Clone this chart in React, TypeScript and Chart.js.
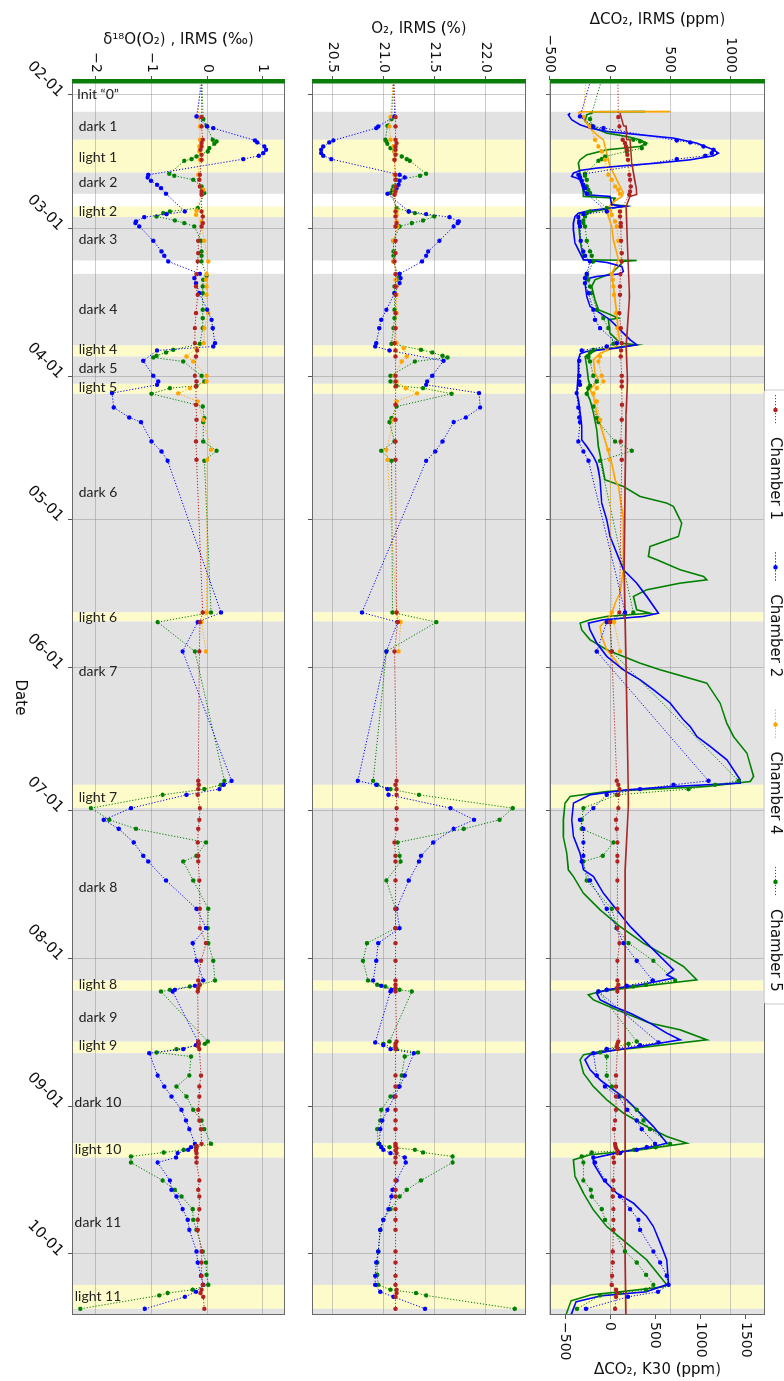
import React, { useEffect, useRef } from 'react';
import { Chart, registerables } from 'chart.js';

Chart.register(...registerables);

const FONT = "'DejaVu Sans', 'Liberation Sans', sans-serif";
const LABEL_FONT = "Lato, 'Open Sans', sans-serif";

// ---------- axes (x in days counted from 02-01) ----------
const X_MIN = -3.1;
const X_MAX = 255.8;
const MONTH_TICKS = [0, 28, 59, 89, 120, 150, 181, 212, 243];
const MONTH_LABELS = ['02-01', '03-01', '04-01', '05-01', '06-01', '07-01', '08-01', '09-01', '10-01'];

const IRMS_TICKS = [-500, 0, 500, 1000];
const K30_TICKS = [-500, 0, 500, 1000, 1500];
const O2_TICKS = [20.5, 21.0, 21.5, 22.0];
const D18O_TICKS = [-2, -1, 0, 1];

const CHAMBERS = ['Chamber 1', 'Chamber 2', 'Chamber 4', 'Chamber 5'];
const COLORS = ['#b22222', '#0000ff', '#ffa500', '#008000'];
const K30_COLORS = ['#a52a2a', '#0000ff', '#ffa500', '#008000'];

// ---------- phases ----------
const PHASE_KIND = ['init', 'dark', 'light', 'dark', 'gap', 'light', 'dark', 'gap', 'dark', 'light', 'dark', 'light', 'dark', 'light', 'dark', 'light', 'dark', 'light', 'dark', 'light', 'dark', 'light', 'dark', 'light', 'dark'];
const PHASE_FROM = [-3.1, 3.56, 9.43, 16.29, 20.75, 23.42, 25.64, 34.74, 37.53, 52.56, 54.86, 60.59, 62.68, 108.5, 110.4, 144.65, 149.5, 185.7, 187.8, 198.5, 200.9, 219.8, 222.8, 249.5, 254.5];
const PHASE_TO = [3.56, 9.43, 16.29, 20.75, 23.42, 25.64, 34.74, 37.53, 52.56, 54.86, 60.59, 62.68, 108.5, 110.4, 144.65, 149.5, 185.7, 187.8, 198.5, 200.9, 219.8, 222.8, 249.5, 254.5, 255.8];
const PHASE_LABEL = ['Init \u201c0\u201d', 'dark 1', 'light 1', 'dark 2', '', 'light 2', 'dark 3', '', 'dark 4', 'light 4', 'dark 5', 'light 5', 'dark 6', 'light 6', 'dark 7', 'light 7', 'dark 8', 'light 8', 'dark 9', 'light 9', 'dark 10', 'light 10', 'dark 11', 'light 11', ''];
const PHASE_LABEL_AT = [0, 6.6, 13.1, 18.4, 0, 24.5, 30.4, 0, 45.1, 53.3, 57.3, 61.3, 83.4, 109.6, 120.9, 147.4, 166.2, 186.5, 193.5, 199.4, 211.3, 221.2, 236.5, 251.9, 0];

// ---------- Chamber 1 (IRMS samples) ----------
const CH1_DAY = [
  -4, 4.68, 6.64, 9.43, 10.13, 10.83, 11.53, 12.58, 13.63, 16.77,
  17.82, 19.22, 20.27, 20.96, 24.46, 25.51, 26.9, 27.6, 30.61, 33.19,
  34.94, 37.6, 40.18, 41.93, 45.77, 48.92, 52.06, 53.6, 54.86, 58.91,
  60.1, 61.15, 64.99, 68.13, 72.68, 76.52, 108.53, 110.55, 116.7, 143.82,
  144.65, 145.56, 146.75, 149.55, 151.99, 153.88, 156.74, 159.54, 160.73, 164.71,
  170.65, 174.7, 177.85, 181.55, 185.67, 186.58, 187.28, 187.98, 198.46, 198.95,
  199.51, 200.07, 205.59, 207.9, 210.0, 212.79, 215.03, 216.84, 219.92, 220.34,
  220.82, 221.31, 221.87, 222.78, 223.83, 227.6, 229.56, 230.96, 233.61, 235.85,
  237.95, 242.49, 244.8, 247.59, 249.48, 250.5, 251.2, 252.0, 254.51,
];
const CH1_D18O = [
  -0.1, -0.1, -0.1, -0.08, -0.1, -0.1, -0.12, -0.1, -0.1, -0.13,
  -0.14, -0.13, -0.1, -0.1, -0.1, -0.08, -0.08, -0.1, -0.16, -0.16,
  -0.17, -0.19, -0.2, -0.17, -0.2, -0.22, -0.22, -0.18, -0.2, -0.22,
  -0.19, -0.2, -0.2, -0.19, -0.2, -0.19, -0.08, -0.13, -0.14, -0.16,
  -0.15, -0.16, -0.17, -0.13, -0.14, -0.16, -0.17, -0.16, -0.16, -0.14,
  -0.13, -0.13, -0.02, -0.11, -0.16, -0.14, -0.16, -0.17, -0.16, -0.15,
  -0.16, -0.14, -0.11, -0.14, -0.14, -0.16, -0.14, -0.11, -0.1, -0.19,
  -0.19, -0.2, -0.19, -0.19, -0.19, -0.14, -0.16, -0.14, -0.14, -0.17,
  -0.17, -0.1, -0.1, -0.1, -0.08, -0.1, -0.12, -0.07, -0.05,
];
const CH1_O2 = [
  21.1, 21.12, 21.12, 21.12, 21.13, 21.12, 21.12, 21.12, 21.11, 21.12,
  21.12, 21.12, 21.12, 21.11, 21.12, 21.12, 21.13, 21.12, 21.12, 21.12,
  21.11, 21.12, 21.12, 21.12, 21.12, 21.12, 21.11, 21.12, 21.12, 21.12,
  21.12, 21.12, 21.12, 21.12, 21.12, 21.12, 21.13, 21.14, 21.11, 21.13,
  21.12, 21.13, 21.13, 21.13, 21.13, 21.13, 21.11, 21.12, 21.12, 21.12,
  21.12, 21.12, 21.12, 21.12, 21.12, 21.12, 21.12, 21.12, 21.13, 21.12,
  21.12, 21.12, 21.12, 21.12, 21.12, 21.12, 21.12, 21.12, 21.12, 21.12,
  21.13, 21.12, 21.13, 21.12, 21.12, 21.12, 21.12, 21.12, 21.12, 21.12,
  21.12, 21.12, 21.12, 21.12, 21.12, 21.13, 21.13, 21.12, 21.12,
];
const CH1_IRMS = [
  65, 69, 78, 106, 125, 133, 139, 144, 150, 161,
  167, 172, 167, 160, 83, 83, 89, 89, 92, 97,
  97, 86, 83, 83, 78, 89, 97, 92, 89, 97,
  97, 97, 100, 97, 89, 97, 78, 0, 14, 56,
  69, 78, 69, 69, 50, 56, 61, 61, 61, 61,
  61, 61, 78, 61, 61, 69, 56, 61, 69, 61,
  56, 61, 50, 50, 50, 50, 42, 33, 42, 44,
  50, 61, 61, 28, 33, 28, 25, 22, 28, 28,
  28, 22, 22, 17, 14, 50, 58, 50, 42,
];

// ---------- Chamber 2 ----------
const CH2_DAY = [
  -4, 4.54, 6.64, 6.99, 9.57, 9.99, 10.83, 11.53, 12.23, 12.79,
  13.49, 16.77, 17.33, 18.03, 18.87, 19.57, 20.75, 24.46, 25.02, 25.65,
  26.56, 26.9, 27.6, 30.61, 32.84, 33.75, 34.94, 37.53, 38.43, 39.48,
  41.58, 45.07, 47.17, 48.92, 52.06, 52.76, 53.6, 55.77, 58.91, 60.1,
  60.8, 62.54, 65.55, 67.65, 68.62, 72.68, 74.77, 76.73, 108.53, 110.55,
  116.7, 143.82, 144.65, 145.56, 146.75, 149.55, 151.99, 153.88, 156.74, 159.54,
  160.73, 164.71, 170.65, 174.7, 177.85, 181.55, 185.67, 186.79, 187.63, 187.98,
  198.67, 199.23, 200.07, 200.91, 205.59, 207.9, 210.0, 212.79, 215.03, 216.84,
  219.92, 220.62, 221.17, 221.87, 222.78, 223.83, 227.6, 229.56, 230.96, 233.61,
  235.85, 237.95, 242.49, 244.8, 247.59, 249.48, 250.94, 251.99, 254.51,
];
const CH2_D18O = [
  -0.08, -0.19, 0.0, 0.11, 0.86, 0.9, 1.03, 1.06, 1.01, 0.93,
  0.65, -1.06, -1.07, -1.01, -0.9, -0.83, -0.74, -0.4, -0.73, -1.13,
  -1.28, -1.29, -1.22, -0.97, -0.82, -0.77, -0.7, -0.13, -0.23, -0.2,
  -0.14, 0.0, 0.08, 0.1, 0.14, 0.11, -0.9, -1.15, -0.97, -0.88,
  -0.9, -1.71, -1.68, -1.4, -1.19, -1.0, -0.82, -0.71, 0.25, -0.17,
  -0.44, 0.44, 0.3, 0.22, -0.37, -1.37, -1.86, -1.59, -1.32, -1.15,
  -1.06, -0.74, -0.19, -0.02, -0.26, -0.19, -0.07, -0.22, -0.58, -0.62,
  -0.16, -0.2, -0.43, -1.04, -0.89, -0.77, -0.64, -0.46, -0.38, -0.32,
  -0.22, -0.29, -0.34, -0.53, -0.56, -0.89, -0.67, -0.64, -0.55, -0.44,
  -0.35, -0.32, -0.19, -0.17, -0.11, -0.07, -0.2, -0.4, -1.12,
];
const CH2_O2 = [
  21.1, 21.11, 20.95, 20.93, 20.51, 20.47, 20.41, 20.39, 20.39, 20.41,
  20.49, 21.16, 21.21, 21.16, 21.15, 21.13, 21.04, 21.25, 21.42, 21.65,
  21.74, 21.73, 21.69, 21.55, 21.44, 21.42, 21.38, 21.16, 21.17, 21.16,
  21.11, 21.03, 20.98, 20.96, 20.93, 20.92, 21.06, 21.59, 21.48, 21.43,
  21.42, 21.94, 21.95, 21.81, 21.69, 21.58, 21.51, 21.42, 20.79, 21.14,
  21.03, 20.75, 20.93, 21.04, 21.05, 21.66, 21.89, 21.69, 21.49, 21.37,
  21.35, 21.25, 21.13, 21.16, 20.95, 20.93, 20.9, 20.98, 21.08, 21.07,
  20.92, 21.0, 21.07, 21.3, 21.21, 21.16, 21.11, 21.04, 20.99, 20.97,
  20.96, 20.98, 21.0, 21.07, 21.21, 21.22, 21.13, 21.09, 21.08, 21.05,
  21.0, 20.97, 20.95, 20.93, 20.92, 20.92, 20.97, 21.1, 21.41,
];
const CH2_IRMS = [
  -150, -250, -140, -55, 555, 667, 778, 861, 847, 792,
  555, -264, -250, -236, -222, -208, -194, -28, -222, -264,
  -256, -256, -250, -244, -222, -208, -167, -194, -208, -208,
  -180, -139, -125, -83, 56, -28, -236, -256, -256, -256,
  -250, -278, -264, -256, -250, -264, -222, -180, 125, -28,
  -111, 819, 528, 250, -28, -139, -250, -222, -222, -222,
  -236, -167, -28, 56, 111, 222, 355, 139, -28, -97,
  403, 250, -28, -139, -111, -42, 69, 144, 222, 264,
  375, 306, 222, 83, -139, -125, -42, 28, 83, 167,
  236, 250, 361, 417, 472, 486, 400, 150, -200,
];

// ---------- Chamber 4 ----------
const CH4_DAY = [
  -4, 4.68, 6.64, 9.43, 10.83, 11.88, 13.63, 16.77, 17.82, 19.22,
  19.92, 20.75, 24.32, 25.16, 26.56, 27.6, 30.61, 34.94, 37.6, 38.78,
  40.18, 41.93, 45.77, 48.92, 52.06, 53.11, 54.86, 55.91, 58.91, 60.1,
  61.5, 62.61, 64.29, 68.13, 74.42, 76.52, 108.53, 110.55, 116.7,
];
const CH4_D18O = [
  -0.12, -0.16, -0.13, -0.13, -0.14, -0.14, -0.13, -0.16, -0.14, -0.13,
  -0.07, -0.1, -0.19, -0.2, -0.1, -0.1, -0.05, 0.02, -0.01, -0.02,
  -0.01, -0.01, 0.02, -0.05, -0.06, -0.19, -0.37, -0.25, -0.01, -0.01,
  -0.31, -0.52, -0.17, -0.07, 0.07, 0.0, -0.01, -0.1, -0.02,
];
const CH4_O2 = [
  21.1, 21.07, 21.06, 21.07, 21.1, 21.11, 21.11, 21.11, 21.12, 21.12,
  21.11, 21.11, 21.13, 21.13, 21.13, 21.14, 21.1, 21.1, 21.13, 21.12,
  21.13, 21.13, 21.13, 21.12, 21.13, 21.2, 21.23, 21.18, 21.11, 21.13,
  21.22, 21.33, 21.13, 21.1, 21.03, 21.04, 21.13, 21.17, 21.15,
];
const CH4_IRMS = [
  -200, -222, -167, -125, -97, -69, -42, -14, 14, 42,
  69, 83, 0, 14, 42, 56, 69, 97, 14, 22,
  28, 33, 50, 61, 56, -28, -83, -97, -69, -56,
  -111, -139, -111, -83, -14, 0, 14, 33, 83,
];

// ---------- Chamber 5 ----------
const CH5_DAY = [
  -4, 5.1, 6.5, 9.43, 9.78, 10.27, 11.18, 11.88, 12.93, 13.49,
  13.84, 16.56, 16.98, 17.82, 19.22, 19.92, 20.61, 23.76, 24.46, 24.81,
  25.51, 26.35, 26.9, 27.6, 30.61, 32.84, 33.75, 34.94, 37.95, 38.78,
  40.18, 41.58, 45.07, 46.82, 48.92, 52.2, 53.46, 54.02, 54.72, 55.07,
  55.91, 58.91, 60.1, 61.01, 61.5, 62.68, 65.34, 67.78, 68.62, 72.68,
  74.63, 76.73, 108.53, 110.55, 116.7, 143.82, 144.65, 145.56, 146.75, 149.55,
  151.99, 153.88, 156.74, 159.54, 160.73, 164.71, 170.65, 174.7, 177.85, 181.55,
  185.67, 186.58, 186.93, 187.63, 187.98, 198.46, 198.95, 200.07, 200.77, 201.61,
  205.59, 207.9, 210.0, 212.79, 215.03, 216.84, 219.92, 220.62, 221.17, 221.73,
  222.57, 223.83, 227.6, 229.56, 230.96, 233.61, 235.85, 237.95, 242.49, 244.8,
  247.38, 249.48, 250.5, 251.2, 251.7, 254.51,
];
const CH5_D18O = [
  -0.1, -0.07, -0.01, 0.1, 0.17, 0.13, 0.04, 0.01, -0.19, -0.28,
  -0.41, -0.68, -0.59, -0.25, -0.1, -0.08, -0.05, -0.17, -0.67, -0.79,
  -0.91, -0.58, -0.41, -0.23, -0.11, -0.1, -0.1, -0.1, -0.01, -0.07,
  -0.08, -0.08, -0.08, -0.08, -0.08, -0.13, -0.61, -0.74, -0.91, -0.97,
  -0.43, -0.1, -0.05, -0.19, -0.67, -1.0, -0.08, -0.05, -0.07, -0.07,
  0.17, -0.05, 0.07, -0.89, -0.22, 0.31, 0.25, -0.05, -0.8, -2.09,
  -1.76, -1.28, -0.02, -0.19, -0.43, -0.25, 0.02, 0.01, 0.02, 0.11,
  0.14, -0.13, -0.31, -0.67, -0.83, 0.01, -0.04, -0.55, -0.91, -0.29,
  -0.32, -0.55, -0.37, -0.25, -0.1, -0.05, 0.07, -0.2, -0.42, -0.78,
  -1.37, -1.37, -0.8, -0.58, -0.46, -0.26, -0.25, -0.19, -0.08, -0.02,
  -0.01, 0.02, -0.26, -0.71, -0.86, -2.28,
];
const CH5_O2 = [
  21.1, 21.08, 21.04, 21.02, 21.03, 21.04, 21.07, 21.11, 21.18, 21.23,
  21.26, 21.42, 21.36, 21.13, 21.1, 21.09, 21.07, 21.13, 21.25, 21.31,
  21.5, 21.39, 21.28, 21.16, 21.1, 21.1, 21.1, 21.1, 21.15, 21.13,
  21.11, 21.11, 21.11, 21.11, 21.1, 21.08, 21.37, 21.48, 21.58, 21.63,
  21.31, 21.07, 21.07, 21.13, 21.39, 21.67, 21.13, 21.08, 21.06, 21.11,
  20.98, 21.08, 21.09, 21.52, 21.03, 20.9, 20.94, 21.07, 21.35, 22.27,
  22.14, 21.79, 21.14, 21.16, 21.17, 21.03, 21.12, 21.12, 20.84, 20.8,
  20.85, 20.94, 21.02, 21.16, 21.28, 21.06, 21.0, 21.13, 21.34, 21.21,
  21.18, 21.15, 21.07, 20.98, 20.97, 20.94, 20.95, 21.06, 21.31, 21.39,
  21.68, 21.68, 21.37, 21.23, 21.16, 21.07, 21.0, 20.97, 20.95, 20.94,
  20.94, 20.95, 21.07, 21.32, 21.42, 22.29,
];
const CH5_IRMS = [
  -60, -167, -153, 194, 250, 292, 264, 139, -42, -69,
  -97, -208, -208, -194, -194, -181, -167, -28, -167, -194,
  -208, -222, -222, -208, -194, -167, -153, -139, -194, -181,
  -167, -153, -111, -56, -14, 28, -139, -167, -181, -181,
  -167, -139, -111, -167, -181, -194, -139, -111, -97, 42,
  181, -83, 194, 0, 14, 1069, 875, 653, 56, -222,
  -236, -236, 28, -61, -222, -194, 14, 56, 153, 361,
  542, 300, 194, -28, -97, 222, 153, -28, -83, -28,
  -28, 14, 83, 222, 278, 333, 500, 380, 200, -153,
  -236, -222, -222, -160, -153, -69, -42, 28, 125, 222,
  300, 361, 300, 83, -83, -275,
];

// ---------- K30 continuous records ----------
const K30_CH1_DAY = [3.84, 6.5, 6.6, 9.3, 9.4, 14.3, 17.5, 19.6, 20.9, 21.3, 23.4, 31.8, 42.3, 52.8, 59.8, 66.7, 80.7, 99.6, 120.6, 148.5, 162.5, 202.3, 244.2, 255.8];
const K30_CH1 = [111, 150, 178, 185, 222, 241, 270, 290, 296, 222, 178, 193, 215, 178, 193, 178, 167, 156, 178, 204, 167, 167, 167, 175];

const K30_CH2_DAY = [
  3.84, 4.19, 5.24, 6.29, 6.99, 7.69, 8.39, 9.08, 10.13, 11.53,
  12.23, 12.79, 13.63, 14.33, 14.88, 15.37, 15.86, 16.42, 17.12, 17.47,
  17.82, 18.87, 19.92, 20.96, 21.31, 23.06, 23.41, 24.25, 24.81, 25.51,
  26.9, 28.3, 31.09, 33.89, 34.59, 35.15, 35.99, 37.04, 37.53, 38.09,
  38.58, 39.48, 42.28, 44.38, 45.77, 47.17, 49.27, 51.36, 52.41, 53.11,
  53.8, 54.3, 55.56, 58.35, 61.15, 62.54, 63.94, 66.74, 69.53, 72.33,
  73.73, 75.82, 77.22, 78.62, 80.71, 85.6, 89.1, 92.59, 96.09, 99.58,
  102.38, 105.17, 108.67, 109.36, 110.06, 110.76, 112.16, 114.95, 117.75, 120.55,
  122.64, 124.74, 127.53, 131.03, 132.43, 134.52, 136.62, 139.41, 143.61, 144.3,
  145.0, 145.7, 146.75, 148.5, 151.99, 155.49, 158.98, 162.47, 163.87, 167.37,
  170.86, 174.35, 177.15, 179.94, 183.44, 184.49, 185.19, 186.58, 187.63, 188.33,
  189.73, 191.12, 192.52, 194.62, 196.72, 198.11, 199.51, 200.56, 201.26, 202.31,
  204.4, 206.5, 208.6, 210.69, 213.49, 216.28, 219.78, 220.48, 221.52, 222.92,
  223.97, 227.46, 230.26, 232.35, 235.15, 237.25, 240.74, 244.24, 249.13, 249.48,
  250.94, 251.78, 253.04, 255.77,
];
const K30_CH2 = [
  -444, -463, -426, -333, -222, -37, 333, 704, 963, 1148,
  1204, 1148, 889, 519, 148, -148, -333, -407, -426, -370,
  -333, -315, -296, -259, 0, 19, 167, -222, -352, -389,
  -407, -407, -389, -315, -296, -37, 130, 148, 111, -148,
  -259, -278, -259, -222, -111, 0, 111, 222, 296, 74,
  -259, -333, -352, -352, -363, -370, -352, -333, -315, -315,
  -259, -185, -148, -130, -111, -93, -37, 0, 74, 148,
  296, 407, 537, 370, -74, -241, -222, -148, -37, 148,
  333, 481, 667, 815, 889, 963, 1111, 1296, 1444, 1444,
  704, 185, -222, -407, -426, -407, -333, -296, -185, -74,
  74, 222, 370, 519, 704, 630, 704, 333, -37, -148,
  -111, 37, 222, 444, 630, 778, 333, -37, -222, -278,
  -222, -111, 37, 185, 333, 481, 630, 481, 148, -185,
  -185, -74, 74, 259, 407, 481, 556, 630, 648, 622,
  400, -100, -378, -433,
];

const K30_CH4_DAY = [
  3.49, 3.56, 3.84, 4.54, 5.94, 7.34, 8.39, 9.43, 10.83, 12.23,
  13.63, 15.02, 16.42, 17.82, 19.22, 20.61, 21.31, 22.71, 24.11, 25.51,
  27.6, 30.4, 33.19, 34.59, 37.39, 40.18, 42.98, 45.77, 49.97, 52.06,
  53.11, 54.16, 55.56, 58.35, 59.75, 61.85, 63.24, 66.74, 70.23, 73.73,
  77.22, 80.71, 82.11, 89.1, 99.58, 104.47, 106.57, 108.67, 110.06, 111.46,
  113.56, 116.35, 118.45, 120.55,
];
const K30_CH4 = [
  667, -333, -352, -315, -259, -204, -148, -74, -56, -37,
  -19, 0, 37, 74, 111, 148, 130, 19, -37, -19,
  19, 37, 74, 93, 19, 37, 56, 74, 93, 111,
  37, -111, -185, -167, -130, -222, -185, -148, -93, -37,
  19, 56, 93, 148, 148, 111, 56, 19, -37, -111,
  -93, -37, 56, 130,
];

const K30_CH5_DAY = [
  3.49, 3.56, 3.84, 4.19, 5.59, 6.64, 8.04, 8.74, 9.43, 10.13,
  10.83, 11.53, 12.58, 13.63, 14.33, 16.42, 17.82, 20.61, 21.31, 21.66,
  23.06, 23.27, 24.46, 24.81, 26.21, 30.4, 34.59, 34.73, 34.94, 35.64,
  37.39, 38.78, 40.18, 42.98, 45.07, 45.77, 46.82, 47.17, 49.97, 52.06,
  52.41, 53.46, 54.86, 56.95, 59.75, 61.15, 62.54, 63.94, 66.74, 70.23,
  73.73, 77.22, 80.71, 82.11, 84.21, 85.6, 86.3, 87.7, 89.8, 92.59,
  94.69, 96.79, 97.48, 99.58, 100.98, 101.68, 102.38, 103.77, 105.17, 107.97,
  108.67, 109.36, 110.06, 110.76, 112.16, 114.26, 116.35, 117.75, 119.15, 120.55,
  121.94, 123.34, 127.53, 131.73, 134.52, 138.01, 142.89, 143.96, 145.0, 146.05,
  147.1, 148.5, 151.99, 155.49, 158.98, 162.47, 163.87, 167.37, 170.86, 174.35,
  177.85, 180.64, 182.74, 185.54, 186.93, 187.98, 188.68, 189.73, 191.82, 194.62,
  196.02, 198.11, 199.51, 200.56, 201.26, 202.31, 205.1, 207.9, 210.69, 213.49,
  216.28, 218.38, 219.78, 221.17, 222.22, 223.27, 226.76, 230.26, 233.75, 237.25,
  240.74, 244.24, 247.73, 249.48, 249.9, 250.73, 251.57, 252.83, 255.77,
];
const K30_CH5 = [
  389, -222, -204, -259, -278, -222, -37, 185, 333, 407,
  333, -37, -259, -333, -352, -333, -315, -296, -296, 56,
  19, 167, -185, -333, -352, -333, -296, 296, 148, 111,
  19, -167, -204, -167, -130, -37, 93, -19, 0, 111,
  296, -148, -278, -259, -241, -222, -259, -222, -185, -148,
  -130, -93, -56, 148, 333, 630, 704, 741, 796, 759,
  444, 426, 519, 778, 1037, 1074, 778, 407, 259, 296,
  444, -37, -222, -333, -315, -222, -37, 148, 333, 556,
  815, 1074, 1222, 1296, 1370, 1519, 1593, 1556, 1074, -37,
  -444, -500, -519, -519, -481, -463, -407, -296, -111, 111,
  370, 630, 815, 963, 333, -111, -241, -185, 74, 444,
  778, 1074, 444, -111, -296, -333, -296, -185, -37, 148,
  407, 630, 852, 333, -222, -407, -389, -296, -185, -37,
  185, 407, 556, 630, 589, 206, -211, -433, -489,
];

// ---------- styling ----------
const GRID = 'rgba(140,140,140,0.45)';
const TICK = '#555555';
const FRAME = '#6a6a6a';
const GRAY = '#e2e2e2';
const YELLOW = '#fdfbc9';
const TXT = '#111111';
const TICK_SIZE = 14;
const TITLE_SIZE = 15;

const pts = (xs: number[], ys: number[]) => xs.map((x, i) => ({ x, y: ys[i] }));

const sampleSet = (i: number, days: number[], vals: number[], axis = 'y') => ({
  label: CHAMBERS[i],
  data: pts(days, vals),
  yAxisID: axis,
  borderColor: COLORS[i],
  backgroundColor: COLORS[i],
  borderWidth: 1,
  borderDash: [1.2, 1.8],
  pointRadius: 2.2,
  pointHoverRadius: 2.2,
  pointBorderWidth: 0,
  pointBackgroundColor: COLORS[i],
  tension: 0,
  fill: false,
});

const k30Set = (i: number, days: number[], vals: number[]) => ({
  label: CHAMBERS[i] + ' K30',
  data: pts(days, vals),
  yAxisID: 'y2',
  borderColor: K30_COLORS[i],
  borderWidth: 1.6,
  pointRadius: 0,
  tension: 0,
  fill: false,
});

const minusFmt = (v: number) => (v < 0 ? '\u2212' + Math.abs(v) : String(v));

function xScale(height: number, labels: boolean) {
  return {
    type: 'linear',
    min: X_MIN,
    max: X_MAX,
    afterBuildTicks: (s: any) => { s.ticks = MONTH_TICKS.map((v) => ({ value: v })); },
    afterFit: (s: any) => { s.height = height; },
    grid: { color: GRID, lineWidth: 1, drawTicks: true, tickLength: 4, tickColor: TICK },
    border: { display: false },
    ticks: {
      display: labels, autoSkip: false, minRotation: 45, maxRotation: 45, padding: 1,
      color: TXT, font: { family: FONT, size: 15 },
      callback: (_v: any, i: number) => MONTH_LABELS[i],
    },
    title: { display: labels, text: 'Date', color: TXT, font: { family: FONT, size: TITLE_SIZE }, padding: { top: 0, bottom: 11 } },
  };
}

function yScale(pos: string, min: number, max: number, ticks: number[], fmt: (v: number) => string, width: number, title: string, titlePad: number, onArea = true) {
  return {
    type: 'linear',
    position: pos,
    min,
    max,
    afterBuildTicks: (s: any) => { s.ticks = ticks.map((v) => ({ value: v })); },
    afterFit: (s: any) => { s.width = width; },
    grid: { color: GRID, lineWidth: 1, drawOnChartArea: onArea, drawTicks: true, tickLength: 4, tickColor: TICK },
    border: { display: false },
    ticks: { padding: 3, color: TXT, font: { family: FONT, size: TICK_SIZE }, callback: (v: any) => fmt(v) },
    title: title
      ? { display: true, text: title, color: TXT, font: { family: FONT, size: TITLE_SIZE }, padding: { top: titlePad, bottom: 0 } }
      : { display: false },
  };
}

const backgroundPlugin = {
  id: 'phaseBands',
  beforeDraw(chart: any) {
    const { ctx, chartArea: a } = chart;
    const x = chart.scales.x;
    ctx.save();
    ctx.fillStyle = '#ffffff';
    ctx.fillRect(a.left, a.top, a.right - a.left, a.bottom - a.top);
    for (let i = 0; i < PHASE_KIND.length; i++) {
      const k = PHASE_KIND[i];
      if (k !== 'dark' && k !== 'light') continue;
      const x0 = Math.max(a.left, x.getPixelForValue(PHASE_FROM[i]));
      const x1 = Math.min(a.right, x.getPixelForValue(PHASE_TO[i]));
      ctx.fillStyle = k === 'dark' ? GRAY : YELLOW;
      ctx.fillRect(x0, a.top, x1 - x0, a.bottom - a.top);
    }
    ctx.restore();
  },
  afterDraw(chart: any) {
    const { ctx, chartArea: a } = chart;
    ctx.save();
    ctx.strokeStyle = FRAME;
    ctx.lineWidth = 1;
    ctx.strokeRect(a.left + 0.5, a.top + 0.5, a.right - a.left - 1, a.bottom - a.top - 1);
    ctx.fillStyle = '#0a7d0a';
    ctx.fillRect(a.left - 1, a.top, 4.5, a.bottom - a.top);
    ctx.restore();
  },
};

const legendPlugin = {
  id: 'customLegend',
  afterDraw(chart: any) {
    const { ctx } = chart;
    ctx.save();
    const bx0 = 390, bx1 = 1004, by0 = -6, by1 = 20, r = 3;
    ctx.beginPath();
    ctx.moveTo(bx0 + r, by0);
    ctx.lineTo(bx1 - r, by0);
    ctx.quadraticCurveTo(bx1, by0, bx1, by0 + r);
    ctx.lineTo(bx1, by1 - r);
    ctx.quadraticCurveTo(bx1, by1, bx1 - r, by1);
    ctx.lineTo(bx0 + r, by1);
    ctx.quadraticCurveTo(bx0, by1, bx0, by1 - r);
    ctx.lineTo(bx0, by0 + r);
    ctx.quadraticCurveTo(bx0, by0, bx0 + r, by0);
    ctx.closePath();
    ctx.fillStyle = 'rgba(255,255,255,0.85)';
    ctx.fill();
    ctx.strokeStyle = '#cccccc';
    ctx.lineWidth = 1;
    ctx.stroke();
    const cy = 8.5;
    CHAMBERS.forEach((name, i) => {
      const cx = 410 + i * 157.3;
      ctx.strokeStyle = COLORS[i];
      ctx.setLineDash([1.2, 1.8]);
      ctx.beginPath();
      ctx.moveTo(cx - 15, cy);
      ctx.lineTo(cx + 15, cy);
      ctx.stroke();
      ctx.setLineDash([]);
      ctx.fillStyle = COLORS[i];
      ctx.beginPath();
      ctx.arc(cx, cy, 2.3, 0, Math.PI * 2);
      ctx.fill();
      ctx.fillStyle = TXT;
      ctx.font = `15px ${FONT}`;
      ctx.textAlign = 'left';
      ctx.textBaseline = 'middle';
      ctx.fillText(name, cx + 27, cy + 0.5);
    });
    // right-hand axis title
    const a = chart.chartArea;
    ctx.translate(1370, (a.top + a.bottom) / 2);
    ctx.rotate(-Math.PI / 2);
    ctx.fillStyle = TXT;
    ctx.font = `${TITLE_SIZE}px ${FONT}`;
    ctx.textAlign = 'center';
    ctx.textBaseline = 'middle';
    ctx.fillText('\u0394CO\u2082, K30 (ppm)', 0, 0);
    ctx.restore();
  },
};

const phaseLabelPlugin = {
  id: 'phaseLabels',
  afterDraw(chart: any) {
    const { ctx, chartArea: a } = chart;
    const x = chart.scales.x;
    ctx.save();
    ctx.fillStyle = '#222222';
    ctx.font = `14px ${LABEL_FONT}`;
    ctx.textAlign = 'center';
    ctx.textBaseline = 'middle';
    for (let i = 0; i < PHASE_LABEL.length; i++) {
      if (!PHASE_LABEL[i]) continue;
      const px = x.getPixelForValue(PHASE_LABEL_AT[i]);
      ctx.save();
      ctx.translate(px, a.bottom - 26);
      ctx.rotate(-Math.PI / 2);
      ctx.fillText(PHASE_LABEL[i], 0, 0);
      ctx.restore();
    }
    ctx.restore();
  },
};

const baseOptions = (padding: any, scales: any) => ({
  responsive: false,
  animation: false,
  devicePixelRatio: 1,
  events: [],
  layout: { padding },
  plugins: { legend: { display: false }, tooltip: { enabled: false }, title: { display: false } },
  scales,
});

function configCO2(): any {
  return {
    type: 'line',
    data: {
      datasets: [
        sampleSet(0, CH1_DAY, CH1_IRMS),
        sampleSet(1, CH2_DAY, CH2_IRMS),
        sampleSet(2, CH4_DAY, CH4_IRMS),
        sampleSet(3, CH5_DAY, CH5_IRMS),
        k30Set(0, K30_CH1_DAY, K30_CH1),
        k30Set(1, K30_CH2_DAY, K30_CH2),
        k30Set(2, K30_CH4_DAY, K30_CH4),
        k30Set(3, K30_CH5_DAY, K30_CH5),
      ],
    },
    options: baseOptions({ top: 19, left: 0, right: 0, bottom: 0 }, {
      x: xScale(12, false),
      y: yScale('left', -500, 1290, IRMS_TICKS, minusFmt, 80, '\u0394CO\u2082, IRMS (ppm)', 11),
      y2: yScale('right', -667, 1720, K30_TICKS, minusFmt, 66, '', 0, false),
    }),
    plugins: [backgroundPlugin, legendPlugin],
  };
}

function configO2(): any {
  return {
    type: 'line',
    data: {
      datasets: [
        sampleSet(0, CH1_DAY, CH1_O2),
        sampleSet(1, CH2_DAY, CH2_O2),
        sampleSet(2, CH4_DAY, CH4_O2),
        sampleSet(3, CH5_DAY, CH5_O2),
      ],
    },
    options: baseOptions({ top: 12, left: 0, right: 66, bottom: 0 }, {
      x: xScale(14, false),
      y: yScale('left', 20.3, 22.4, O2_TICKS, (v) => v.toFixed(1), 80, 'O\u2082, IRMS (%)', 20),
    }),
    plugins: [backgroundPlugin],
  };
}

function configD18O(): any {
  return {
    type: 'line',
    data: {
      datasets: [
        sampleSet(0, CH1_DAY, CH1_D18O),
        sampleSet(1, CH2_DAY, CH2_D18O),
        sampleSet(2, CH4_DAY, CH4_D18O),
        sampleSet(3, CH5_DAY, CH5_D18O),
      ],
    },
    options: baseOptions({ top: 13, left: 0, right: 66, bottom: 0 }, {
      x: xScale(72, true),
      y: yScale('left', -2.43, 1.4, D18O_TICKS, minusFmt, 80, '\u03b4\u00b9\u2078O(O\u2082) , IRMS (\u2030)', 31),
    }),
    plugins: [backgroundPlugin, phaseLabelPlugin],
  };
}

export default function App() {
  const refA = useRef<HTMLCanvasElement>(null);
  const refB = useRef<HTMLCanvasElement>(null);
  const refC = useRef<HTMLCanvasElement>(null);

  useEffect(() => {
    const charts = [
      new Chart(refA.current as HTMLCanvasElement, configCO2()),
      new Chart(refB.current as HTMLCanvasElement, configO2()),
      new Chart(refC.current as HTMLCanvasElement, configD18O()),
    ];
    return () => charts.forEach((c) => c.destroy());
  }, []);

  return (
    <div style={{ position: 'fixed', left: 0, top: 0, width: 784, height: 1381, overflow: 'hidden', background: '#ffffff' }}>
      <div
        style={{
          position: 'absolute', left: 0, top: 0, width: 1381, height: 784,
          transformOrigin: '0 0', transform: 'translateX(784px) rotate(90deg)',
        }}
      >
        <canvas ref={refA} width={1381} height={246} style={{ position: 'absolute', left: 0, top: 0 }} />
        <canvas ref={refB} width={1381} height={240} style={{ position: 'absolute', left: 0, top: 246 }} />
        <canvas ref={refC} width={1381} height={298} style={{ position: 'absolute', left: 0, top: 486 }} />
      </div>
    </div>
  );
}
